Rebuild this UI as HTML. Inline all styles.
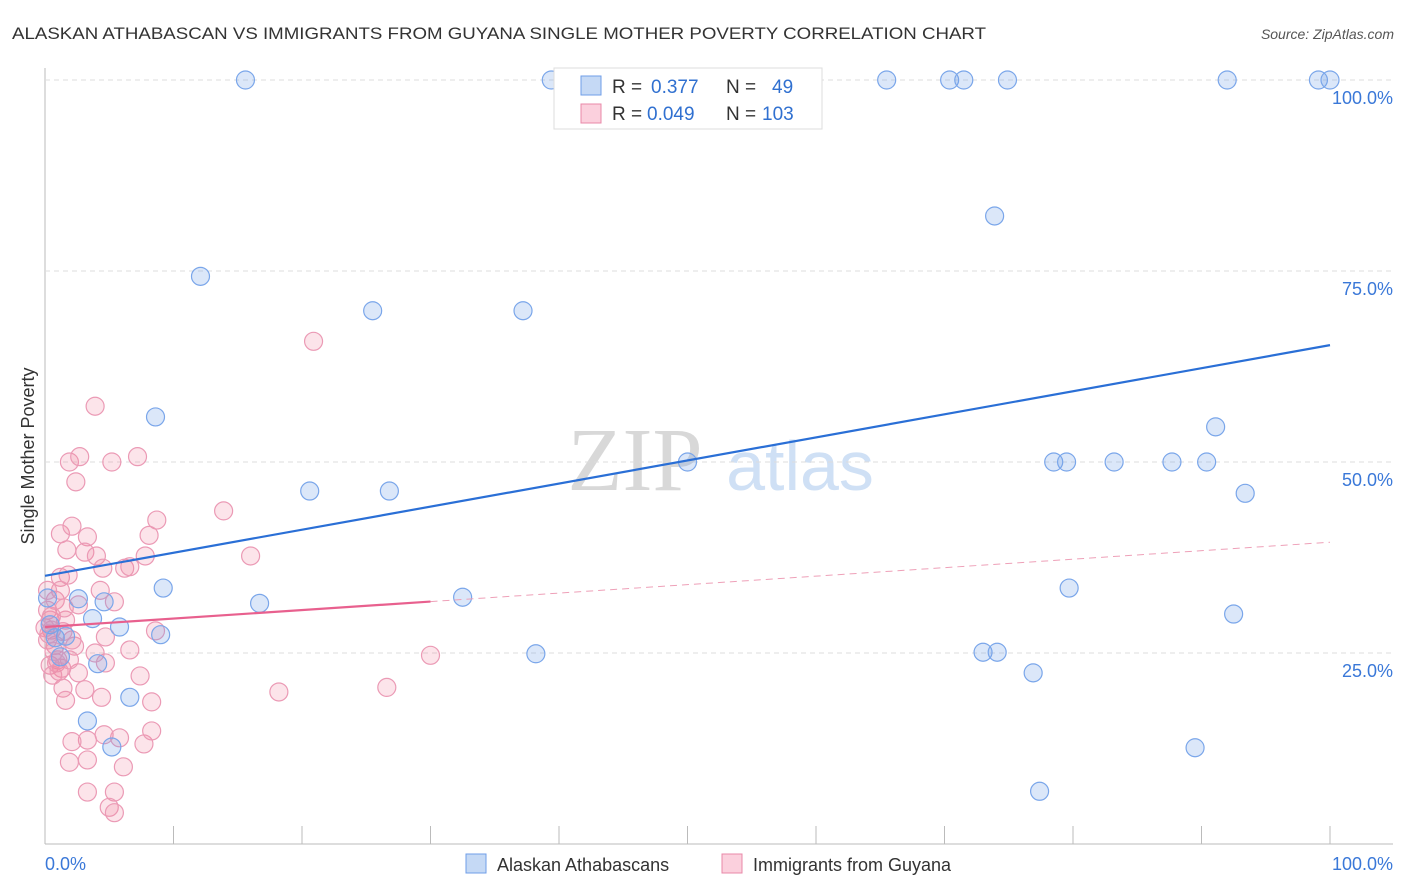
<!DOCTYPE html>
<html><head><meta charset="utf-8"><style>
body{margin:0;background:#fff;font-family:"Liberation Sans",sans-serif;}
svg{display:block}
</style></head><body>
<svg id="chart" width="1406" height="892">
<text x="12" y="39" font-size="17" fill="#333" textLength="974" lengthAdjust="spacingAndGlyphs">ALASKAN ATHABASCAN VS IMMIGRANTS FROM GUYANA SINGLE MOTHER POVERTY CORRELATION CHART</text>
<text x="1394" y="39" font-size="14" fill="#555" font-style="italic" text-anchor="end">Source: ZipAtlas.com</text>
<text x="34" y="456" font-size="18" fill="#333" text-anchor="middle" transform="rotate(-90 34 456)">Single Mother Poverty</text>
<g><text x="635" y="490" font-size="90" fill="#d8d8d8" font-family="Liberation Serif,serif" text-anchor="middle">ZIP</text><text x="800" y="490" font-size="70" fill="#cfe0f5" text-anchor="middle">atlas</text></g>
<g id="grid"></g><g id="marks"></g>
<g>
<rect x="554" y="68" width="268" height="61" fill="#fff" stroke="#ddd"/>
<rect x="581" y="76" width="20" height="19" fill="#c5d9f5" stroke="#6f9ee8"/>
<rect x="581" y="104" width="20" height="19" fill="#fbd0dd" stroke="#e888a8"/>
<text x="612" y="93" font-size="19" fill="#333">R =</text>
<text x="651" y="93" font-size="19" fill="#3070d0">0.377</text>
<text x="726" y="93" font-size="19" fill="#333">N =</text>
<text x="772" y="93" font-size="19" fill="#3070d0">49</text>
<text x="612" y="120" font-size="19" fill="#333">R =</text>
<text x="647" y="120" font-size="19" fill="#3070d0">0.049</text>
<text x="726" y="120" font-size="19" fill="#333">N =</text>
<text x="762" y="120" font-size="19" fill="#3070d0">103</text>
</g>
<g>
<rect x="466" y="854" width="20" height="19" fill="#c5d9f5" stroke="#6f9ee8"/>
<text x="497" y="871" font-size="18" fill="#333">Alaskan Athabascans</text>
<rect x="722" y="854" width="20" height="19" fill="#fbd0dd" stroke="#e888a8"/>
<text x="753" y="871" font-size="18" fill="#333">Immigrants from Guyana</text>
</g>
</svg>
<script>
const blueX=[15.6,39.4,65.5,70.4,71.5,74.9,92.0,99.1,100,73.9,12.1,25.5,37.2,8.6,91.1,50.0,78.5,79.5,83.2,87.7,90.4,93.4,20.6,26.8,9.2,79.7,32.5,16.7,4.6,2.6,92.5,3.7,5.8,9.0,1.6,73.0,74.1,38.2,4.1,76.9,6.6,3.3,5.2,89.5,77.4,0.2,0.4,0.8,1.2];
const blueY=[100,100,100,100,100,100,100,100,100,82.2,74.3,69.8,69.8,55.9,54.6,50,50,50,50,50,50,45.9,46.2,46.2,33.5,33.5,32.3,31.5,31.7,32.1,30.1,29.5,28.4,27.4,27.2,25.1,25.1,24.9,23.6,22.4,19.2,16.1,12.7,12.6,6.9,32.2,28.7,27.0,24.5];
const pinkX=[3.9,1.9,2.7,5.2,7.2,2.4,13.9,8.7,8.1,7.8,1.2,2.1,3.3,1.7,3.1,4.0,4.5,6.2,6.6,1.2,1.8,4.3,5.4,8.6,4.7,6.6,2.3,7.4,4.7,3.9,2.6,3.1,1.4,4.4,8.3,3.3,2.1,1.9,3.3,4.6,5.8,7.7,8.3,6.1,3.3,5.4,5.0,5.4,20.9,16.0,18.2,26.6,30.0,0.2,0.4,0.5,0.8,1.0,0.4,1.3,0.2,0.8,1.6,0.6,1.9,1.2,0.2,2.1,1.6,0.9,0,1.5,2.6,0.3,0.7,1.1,0.5,1.4];
const pinkY=[57.3,50.0,50.7,50.0,50.7,47.4,43.6,42.4,40.4,37.7,40.6,41.6,40.2,38.5,38.2,37.7,36.1,36.1,36.3,34.9,35.2,33.2,31.7,27.9,27.1,25.4,25.9,22.0,23.7,25.0,22.4,20.2,20.4,19.2,18.6,13.6,13.4,10.7,11.0,14.3,13.9,13.1,14.8,10.1,6.8,6.8,4.8,4.1,65.8,37.7,19.9,20.5,24.7,30.6,29.3,28.0,26.0,24.1,23.4,23.0,26.7,31.9,29.3,22.1,24.1,33.2,33.2,26.7,18.8,23.7,28.3,30.9,31.3,27.5,25.2,22.6,29.8,27.8];
const trendIntercept=[35.1,28.4];
const trendSlope=[0.302,0.111];
const pinkSolidEnd=30;
const yTicks=[25,50,75,100];
const yTickLabels=["25.0%","50.0%","75.0%","100.0%"];
const xTicks=[0,10,20,30,40,50,60,70,80,90,100];
const NS="http://www.w3.org/2000/svg";
const sx=v=>45+v*12.85, sy=v=>844-v*7.64;
const grid=document.getElementById('grid'), marks=document.getElementById('marks');
function mk(p,tag,a){const e=document.createElementNS(NS,tag);for(const k in a)e.setAttribute(k,a[k]);p.appendChild(e);return e;}
let e=mk(grid,'line',{x1:45,y1:68,x2:45,y2:844,stroke:'#bbb'});


e=mk(grid,'line',{x1:45,y1:844,x2:1393,y2:844,stroke:'#bbb'});


yTicks.forEach((t,i)=>{
 e=mk(grid,'line',{x1:45,y1:sy(t),x2:1393,y2:sy(t),stroke:'#ddd','stroke-dasharray':'5,4'});
 
 
 e=mk(grid,'text',{x:1393,y:sy(t)+24,'font-size':18,fill:'#3a78d8','text-anchor':'end'});
 e.textContent=yTickLabels[i];
 
 
});
xTicks.forEach(t=>{
 e=mk(grid,'line',{x1:sx(t),y1:826,x2:sx(t),y2:844,stroke:'#bbb'});
 
 
});
e=mk(grid,'text',{x:45,y:870,'font-size':18,fill:'#3a78d8'});e.textContent='0.0%';


e=mk(grid,'text',{x:1393,y:870,'font-size':18,fill:'#3a78d8','text-anchor':'end'});e.textContent='100.0%';


pinkX.forEach((x,i)=>{
 e=mk(marks,'circle',{cx:sx(x),cy:sy(pinkY[i]),r:9,fill:'rgba(240,130,160,0.22)',stroke:'#eb9ab5','stroke-width':1.2});
 
 
});
blueX.forEach((x,i)=>{
 e=mk(marks,'circle',{cx:sx(x),cy:sy(blueY[i]),r:9,fill:'rgba(110,160,230,0.25)',stroke:'#7aa6ea','stroke-width':1.2});
 
 
});
const f=(k,x)=>trendIntercept[k]+trendSlope[k]*x;
e=mk(marks,'line',{x1:sx(0),y1:sy(f(0,0)),x2:sx(100),y2:sy(f(0,100)),stroke:'#2a6fd6','stroke-width':2.2});


e=mk(marks,'line',{x1:sx(0),y1:sy(f(1,0)),x2:sx(pinkSolidEnd),y2:sy(f(1,pinkSolidEnd)),stroke:'#e8608e','stroke-width':2.2});


e=mk(marks,'line',{x1:sx(pinkSolidEnd),y1:sy(f(1,pinkSolidEnd)),x2:sx(100),y2:sy(f(1,100)),stroke:'#eea0b8','stroke-width':1,'stroke-dasharray':'7,5'});


</script>
</body></html>
